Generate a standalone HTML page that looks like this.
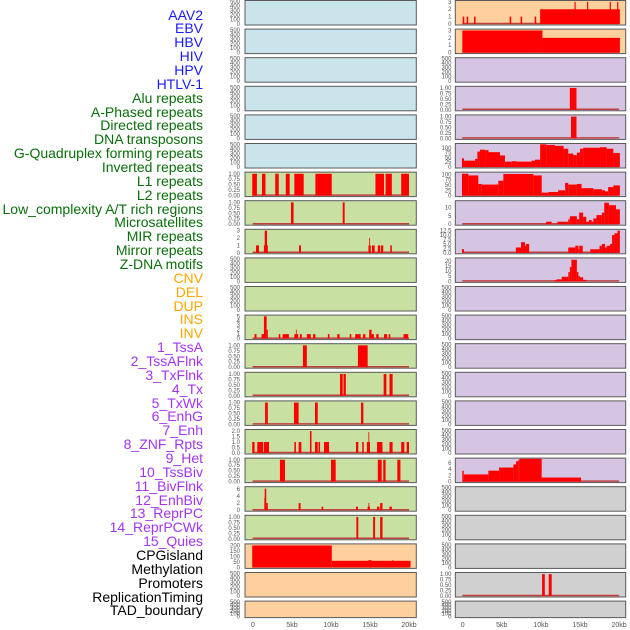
<!DOCTYPE html>
<html><head><meta charset="utf-8">
<style>
html,body{margin:0;padding:0;background:#fff;}
body{width:630px;height:630px;overflow:hidden;position:relative;font-family:"Liberation Sans",sans-serif;}
#labels div{position:absolute;right:427px;font-size:14px;line-height:14px;white-space:nowrap;}
svg{position:absolute;left:0;top:0;}
</style></head>
<body>
<div id="labels"></div>
<svg id="chart" width="630" height="630"></svg>
<script>
// ----- labels -----
const labelNames = ["AAV2","EBV","HBV","HIV","HPV","HTLV-1","Alu repeats","A-Phased repeats","Directed repeats","DNA transposons","G-Quadruplex forming repeats","Inverted repeats","L1 repeats","L2 repeats","Low_complexity A/T rich regions","Microsatellites","MIR repeats","Mirror repeats","Z-DNA motifs","CNV","DEL","DUP","INS","INV","1_TssA","2_TssAFlnk","3_TxFlnk","4_Tx","5_TxWk","6_EnhG","7_Enh","8_ZNF_Rpts","9_Het","10_TssBiv","11_BivFlnk","12_EnhBiv","13_ReprPC","14_ReprPCWk","15_Quies","CPGisland","Methylation","Promoters","ReplicationTiming","TAD_boundary"];
const labelGroups = [6,13,5,15,5];
const groupColors = ["#1a1aff","#0a6e0a","#ffa500","#a335f5","#000000"];

// ----- x axis -----
const xTicks = [0,5,10,15,20];
const xTickLabels = ["0","5kb","10kb","15kb","20kb"];

// ----- bar series (start kb, end kb, value) -----
const L_L1 = [[-0.1,0.5,1],[1.15,1.6,1],[2.85,3.3,1],[4.2,4.7,1],[5.3,6.5,1],[8.0,10.1,1],[15.7,16.8,1],[17.0,17.8,1],[19.0,20.0,1]];
const L_L2 = [[4.87,5.2,1],[11.5,11.75,1]];
const L_Low = [[0.38,0.77,1],[1.4,1.9,1],[1.5,1.8,3],[5.9,6.15,1],[14.8,15.1,1],[14.9,15.0,2],[15.25,15.6,1],[16.0,16.3,1],[16.4,16.7,1],[17.6,17.8,1]];
const L_Mirror = [[0.2,0.45,1],[1.1,1.5,1],[1.4,1.75,5],[1.75,1.9,2],[3.3,3.5,1],[3.8,4.6,1],[5.3,5.8,1],[5.5,5.6,2],[6.0,6.25,1],[6.9,7.4,1],[7.7,8.0,1],[9.6,9.8,1],[10.8,11.1,1],[12.4,12.6,1],[13.1,13.8,1],[14.1,14.4,1],[14.9,15.2,2],[15.2,15.5,1],[15.8,16.1,1],[16.8,17.2,1],[17.4,17.6,1],[19.3,19.9,1]];
const L_S1 = [[6.4,6.9,1],[13.45,14.7,1]];
const L_S2 = [[11.15,11.5,1],[11.6,11.9,1],[16.75,17.1,1],[17.5,17.9,1]];
const L_S3 = [[1.55,1.9,1],[5.25,5.85,1],[7.95,8.3,1],[13.85,14.15,1]];
const L_S4 = [[-0.1,0.2,1],[0.55,1.3,1],[1.4,2.05,1],[5.3,5.5,1],[5.85,6.2,1],[7.3,7.5,2],[7.95,8.3,1],[8.4,8.6,1],[9.1,9.75,1],[13.2,13.5,1],[14.0,14.2,1],[14.6,15.0,1],[14.8,14.9,1.9],[15.9,16.6,1],[17.5,17.9,1],[19.0,19.4,1],[19.7,20.0,1]];
const L_S5 = [[3.45,4.1,1],[10.0,10.6,1],[16.0,16.5,1],[16.7,17.0,1],[18.5,18.9,1]];
const L_S6 = [[1.45,1.6,3.5],[1.5,1.7,6],[1.7,1.9,2],[5.85,6.1,2],[8.8,9.0,1],[13.2,13.45,1],[14.7,15.0,1],[14.8,14.9,2],[15.9,16.2,1],[16.3,16.6,2],[17.5,17.8,1]];
const L_S7 = [[13.25,13.5,1],[15.4,15.65,1],[16.3,16.6,1]];
const L_CPG = [[-0.1,10.1,200],[10.1,20.2,60],[14.8,15.2,66],[17.8,18.0,64]];
const R_Rep = [[0,0.2,1],[0.5,0.7,1],[1.45,1.65,1],[6.0,6.2,1],[7.4,7.6,1],[9.2,9.4,1],[9.9,20.1,2],[14.3,14.45,3],[15.9,16.05,3],[18.8,18.95,3],[19.75,19.9,3]];
const R_TAD = [[-0.05,10.2,3],[10.2,20.1,2]];
const R_S3 = [[13.7,14.55,1]];
const R_S4 = [[13.85,14.55,1]];
const R_S5 = [[-0.1,0.17,45],[0.17,1.58,33],[1.58,1.88,42],[1.88,2.2,80],[2.2,2.86,90],[2.86,3.3,88],[3.3,4.77,77],[4.77,5.4,60],[5.4,6.27,28],[6.27,6.9,30],[6.9,8.8,28],[8.8,9.25,33],[9.25,9.9,38],[9.9,10.7,118],[10.7,11.8,115],[11.8,12.9,110],[12.9,13.5,95],[13.5,14.15,70],[14.15,14.6,62],[14.6,15.0,75],[15.0,15.4,95],[15.4,17.56,100],[17.56,18.4,103],[18.4,19.27,95],[19.27,20.1,73]];
const R_S6 = [[-0.1,0.72,103],[0.72,2.0,95],[2.0,2.43,55],[2.43,4.56,52],[4.56,5.2,70],[5.2,9.04,102],[9.04,10.1,95],[10.1,10.95,14],[10.95,12.2,17],[12.2,13.1,25],[13.1,13.5,60],[13.5,14.6,52],[14.6,15.2,55],[15.2,16.7,35],[16.7,17.8,30],[17.8,18.2,25],[18.2,18.6,20],[18.6,19.27,40],[19.27,20.1,48]];
const R_S7 = [[10.66,11.38,1.5],[12.1,13.3,1.5],[13.3,13.5,1.5],[13.5,13.7,3],[13.7,14.6,4.8],[14.6,14.9,3],[14.9,15.4,7],[15.4,15.8,4.5],[15.8,16.15,1.5],[16.15,16.5,2.5],[16.5,16.7,1.5],[16.7,17.1,3.5],[17.1,17.8,5.5],[17.8,18.1,7],[18.1,18.7,13],[18.7,19.6,11.5],[19.6,20.1,9]];
const R_S8 = [[-0.1,0.17,2],[6.8,7.46,3],[7.46,7.97,6],[7.97,8.1,4],[8.1,8.5,5],[13.5,14.4,3],[14.4,14.8,4],[14.8,14.9,2],[14.9,15.35,4],[16.3,17.5,2],[17.5,17.8,4],[17.8,18.2,5],[18.2,18.4,3],[18.4,18.85,4],[18.85,19.1,5],[19.1,19.4,10],[19.4,19.8,11],[19.8,20.1,12.5]];
const R_S9 = [[11.7,12.0,1],[12.0,12.66,2],[12.66,13.5,4.5],[13.5,13.7,9],[13.7,13.9,14],[13.9,14.6,21],[14.6,14.8,9],[14.8,15.0,5],[15.0,15.4,4],[15.4,15.8,1.5]];
const R_S10 = [[-0.05,0.13,3.5],[0.13,3.28,2.3],[3.28,4.65,3.5],[4.65,6.48,4.5],[6.48,6.82,5.5],[6.82,7.12,6.5],[7.12,7.25,7],[7.25,10.1,7.3],[10.1,15.13,1.3]];
const R_Prom = [[10.15,10.5,1],[11.0,11.38,1]];

// ticks
const T500 = [0,100,200,300,400,500];
const T1 = [0,0.25,0.5,0.75,1];
const T3 = [0,1,2,3];

// panel specs: [column, row, bg, series, yMax, ticks, decimals, name]
const BLUE="#c9e4eb", GREEN="#c8e1a3", PEACH="#fed09e", LAV="#d5c5e3", GRAY="#d0d0d0";
const panels = [];
function P(col,row,bg,series,ymax,ticks,dec,name){panels.push({col,row,bg,series,ymax,ticks,dec,name});}
for(let r=0;r<6;r++) P(0,r,BLUE,null,500,T500,0,"virus-panel-"+r);
P(0,6,GREEN,L_L1,1.03,T1,2,"repeat-panel-6");
P(0,7,GREEN,L_L2,1.03,T1,2,"repeat-panel-7");
P(0,8,GREEN,L_Low,3.05,T3,0,"repeat-panel-8");
P(0,9,GREEN,null,500,T500,0,"repeat-panel-9");
P(0,10,GREEN,null,500,T500,0,"repeat-panel-10");
P(0,11,GREEN,L_Mirror,5.05,[0,1,2,3,4,5],0,"repeat-panel-11");
P(0,12,GREEN,L_S1,1.03,T1,2,"repeat-panel-12");
P(0,13,GREEN,L_S2,1.03,T1,2,"repeat-panel-13");
P(0,14,GREEN,L_S3,1.03,T1,2,"repeat-panel-14");
P(0,15,GREEN,L_S4,2.05,[0,0.5,1,1.5,2],1,"repeat-panel-15");
P(0,16,GREEN,L_S5,1.03,T1,2,"repeat-panel-16");
P(0,17,GREEN,L_S6,6.3,[0,2,4,6],0,"repeat-panel-17");
P(0,18,GREEN,L_S7,1.03,T1,2,"repeat-panel-18");
P(0,19,PEACH,L_CPG,205,[0,50,100,150,200],0,"cpg-panel");
P(0,20,PEACH,null,500,T500,0,"methylation-panel");
P(0,21,PEACH,null,500,T500,0,"promoters-panel-left");
P(1,0,PEACH,R_Rep,3.05,T3,0,"replication-panel");
P(1,1,PEACH,R_TAD,3.05,T3,0,"tad-panel");
P(1,2,LAV,null,500,T500,0,"state-panel-2");
P(1,3,LAV,R_S3,1.03,T1,2,"state-panel-3");
P(1,4,LAV,R_S4,1.03,T1,2,"state-panel-4");
P(1,5,LAV,R_S5,117,[0,25,50,75,100],0,"state-panel-5");
P(1,6,LAV,R_S6,106,[0,25,50,75,100],0,"state-panel-6");
P(1,7,LAV,R_S7,13.6,[0,5,10],0,"state-panel-7");
P(1,8,LAV,R_S8,12.7,[0,2.5,5,7.5,10,12.5],1,"state-panel-8");
P(1,9,LAV,R_S9,21.8,[0,5,10,15,20],0,"state-panel-9");
for(let r=10;r<16;r++) P(1,r,LAV,null,500,T500,0,"state-panel-"+r);
P(1,16,LAV,R_S10,7.2,[0,2,4,6],0,"state-panel-16");
for(let r=17;r<20;r++) P(1,r,GRAY,null,500,T500,0,"sv-panel-"+r);
P(1,20,GRAY,R_Prom,1.03,T1,2,"sv-panel-20");
P(1,21,GRAY,null,500,T500,0,"sv-panel-21");

// labels
const lab = document.getElementById('labels');
let gi=0, gc=0;
labelNames.forEach((t,i)=>{
  const d=document.createElement('div');
  
  
  d.textContent=t;
  d.style.top=(15+i*13.86-7.5)+'px';
  d.style.color=groupColors[gi];
  lab.appendChild(d);
  gc++; if(gc>=labelGroups[gi]){gi++;gc=0;}
});

// geometry
const NS="http://www.w3.org/2000/svg";
const svg=document.getElementById('chart');
const colX=[[245,416.3],[455.3,625.7]];
function xs(col,kb){return col===0?253+kb*7.8:462.7+kb*7.82;}
function rowTop(r){return 0.5+r*28.6;}
function rowH(r){return r===21?16.5:24.5;}
function el(tag,attrs){const e=document.createElementNS(NS,tag);for(const k in attrs)e.setAttribute(k,attrs[k]);svg.appendChild(e);return e;}

panels.forEach((p,pi)=>{
  const [x0,x1]=colX[p.col]; const top=rowTop(p.row), h=rowH(p.row);
  const yb=top+h-1, yt=top+1;
  const ys=v=>yb-(v/p.ymax)*(yb-yt);
  const bg=el('rect',{x:x0,y:top,width:x1-x0,height:h,fill:p.bg});
  
  
  const cid='c'+pi;
  const cp=document.createElementNS(NS,'clipPath');cp.setAttribute('id',cid);
  const cr=document.createElementNS(NS,'rect');cr.setAttribute('x',x0);cr.setAttribute('y',top);cr.setAttribute('width',x1-x0);cr.setAttribute('height',h);
  cp.appendChild(cr);svg.appendChild(cp);
  if(p.series){
    const bl=el('line',{x1:xs(p.col,-0.05),x2:xs(p.col,20),y1:yb-0.5,y2:yb-0.5,stroke:"#c04040","stroke-width":1.5,"clip-path":`url(#${cid})`});
    
    
    p.series.forEach(s=>{
      const a=xs(p.col,s[0]), b=xs(p.col,s[1]);
      const y=ys(s[2]);
      const r=el('rect',{x:a,y:y,width:Math.max(0.8,b-a),height:yb-y,fill:"#ff0000","clip-path":`url(#${cid})`});
      
      
    });
  }
  const fr=el('rect',{x:x0,y:top,width:x1-x0,height:h,fill:"none",stroke:"#5a5a5a","stroke-width":1});
  
  
  const tx = p.col===0?240:451.5;
  p.ticks.forEach(t=>{
    const te=el('text',{x:tx,y:ys(t)+2,"font-size":6,"text-anchor":"end",fill:"#555","font-family":"Liberation Sans, sans-serif"});
    te.textContent=t.toFixed(p.dec);
    
    
  });
});

// x axis labels
[0,1].forEach(c=>{
  xTicks.forEach((t,i)=>{
    const te=el('text',{x:xs(c,t),y:627,"font-size":7,"text-anchor":"middle",fill:"#555","font-family":"Liberation Sans, sans-serif"});
    te.textContent=xTickLabels[i];
    
    
  });
});
</script>
</body></html>
